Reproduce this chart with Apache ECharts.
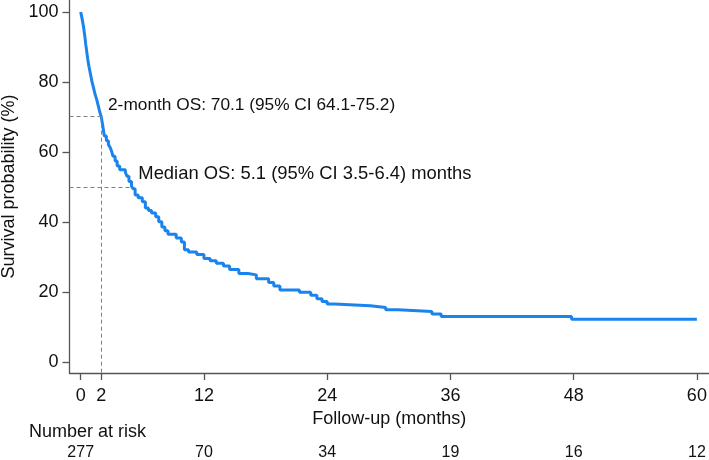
<!DOCTYPE html>
<html>
<head>
<meta charset="utf-8">
<script src="https://cdn.jsdelivr.net/npm/echarts@6/dist/echarts.min.js"></script>
<style>
html,body{margin:0;padding:0;background:#fff;}
#chart{width:709px;height:460px;}
</style>
</head>
<body>
<div id="chart"></div>
<script>
// Kaplan-Meier step points (months, survival %)
var months = [0,0.1,0.2,0.3,0.4,0.5,0.6,0.7,0.8,0.95,1.1,1.25,1.4,1.55,1.7,1.85,2.0,2.15,2.3,2.5,2.7,2.85,3.0,3.15,3.35,3.55,3.8,4.35,4.5,4.7,4.95,5.1,5.3,5.6,6.0,6.3,6.6,6.9,7.3,7.6,7.9,8.2,8.5,9.3,9.8,10.1,10.5,11.3,12.0,12.6,13.2,13.9,14.5,15.4,16.3,17.1,18.3,18.8,19.4,21.3,22.4,23.0,23.5,24.0,24.7,28.2,29.7,30.9,34.2,35.1,47.8,60.0];
var survival = [100,98.6,97.1,95.3,93.1,90.6,88.4,86.3,84.5,82.3,80.1,78.3,76.5,75.1,73.3,71.5,70.1,67.5,64.6,63.2,62.1,61.4,60.3,58.8,57.4,56.0,54.9,54.2,53.1,51.6,50.2,49.5,47.7,46.9,45.8,44.0,43.3,42.6,41.5,40.1,38.6,37.5,36.5,35.4,34.3,32.1,31.4,30.7,29.6,28.9,28.2,27.4,26.4,25.3,24.9,23.8,22.7,21.7,20.6,19.9,19.1,18.1,17.3,16.6,16.1,15.6,14.9,14.4,13.7,13.0,12.2,12.2];
var xTicks = [0,2,12,24,36,48,60];
var yTicks = [0,20,40,60,80,100];
var riskTimes = [0,12,24,36,48,60];
var riskCounts = [277,70,34,19,16,12];
var twoMonthOS = [2, 70.1];
var medianOS = [5.1, 50];
var twoMonthText = '2-month OS: 70.1 (95% CI 64.1-75.2)';
var medianText = 'Median OS: 5.1 (95% CI 3.5-6.4) months';

var X_MIN = -1.09, X_MAX = 61.18, Y_MIN = -3.14, Y_MAX = 103.43;
var FONT = '"Liberation Sans", Arial, Helvetica, sans-serif';
var NARROW = '"Liberation Sans Narrow", "Arial Narrow", "Liberation Sans", Arial, sans-serif';

var kmData = months.map(function(m, i){ return [m, survival[i]]; });
var riskMap = {};
riskTimes.forEach(function(t, i){ riskMap[t] = riskCounts[i]; });

var chart = echarts.init(document.getElementById('chart'), null, {renderer:'canvas'});
chart.setOption({
  animation: false,
  backgroundColor: '#fff',
  title: {
    text: 'Number at risk', left: 29, top: 423, padding: 0,
    textStyle: {fontFamily: FONT, fontSize: 18, fontWeight: 'normal', color: '#111'}
  },
  grid: {left: 69.5, right: 0, top: 0, bottom: 87, containLabel: false, outerBoundsMode: 'none'},
  xAxis: [{
    type: 'value', min: X_MIN, max: X_MAX,
    name: 'Follow-up (months)', nameLocation: 'middle', nameGap: 31,
    nameTextStyle: {fontFamily: FONT, fontSize: 18, color: '#111'},
    axisLine: {show: true, onZero: false, lineStyle: {color: '#555', width: 1.3}},
    axisTick: {show: true, length: 7, customValues: xTicks, lineStyle: {color: '#555', width: 1.3}},
    axisLabel: {customValues: xTicks, margin: 14, fontFamily: FONT, fontSize: 18, color: '#111'},
    splitLine: {show: false}
  }, {
    type: 'value', min: X_MIN, max: X_MAX, position: 'bottom', offset: 72,
    axisLine: {show: false}, axisTick: {show: false}, splitLine: {show: false},
    axisLabel: {customValues: riskTimes, margin: 0, fontFamily: NARROW, fontSize: 16, color: '#111',
      formatter: function(v){ var k = Math.round(v); return riskMap[k] !== undefined ? String(riskMap[k]) : ''; }}
  }],
  yAxis: {
    type: 'value', min: Y_MIN, max: Y_MAX,
    name: 'Survival probability (%)', nameLocation: 'middle', nameGap: 48, nameRotate: 90,
    nameTextStyle: {fontFamily: FONT, fontSize: 18, color: '#111'},
    axisLine: {show: true, onZero: false, lineStyle: {color: '#555', width: 1.3}},
    axisTick: {show: true, length: 7, customValues: yTicks, lineStyle: {color: '#555', width: 1.3}},
    axisLabel: {customValues: yTicks, margin: 11, fontFamily: FONT, fontSize: 18, color: '#111'},
    splitLine: {show: false}
  },
  series: [{
    type: 'line', step: 'end', data: kmData, xAxisIndex: 0,
    showSymbol: false, symbol: 'none',
    lineStyle: {color: '#1a84ee', width: 3},
    z: 3,
    markLine: {
      silent: true, symbol: 'none', animation: false,
      label: {show: false},
      lineStyle: {color: '#808080', type: [4, 3], width: 1},
      data: [
        [{coord: [X_MIN, twoMonthOS[1]]}, {coord: [twoMonthOS[0], twoMonthOS[1]]}],
        [{coord: [twoMonthOS[0], twoMonthOS[1]]}, {coord: [twoMonthOS[0], Y_MIN]}],
        [{coord: [X_MIN, medianOS[1]]}, {coord: [medianOS[0], medianOS[1]]}]
      ]
    },
    markPoint: {
      silent: true, symbol: 'circle', symbolSize: 0,
      label: {show: true, position: 'right', distance: 0, fontFamily: FONT, fontSize: 18, color: '#111'},
      data: [
        {coord: [2.66, 73.3], label: {formatter: twoMonthText, fontSize: 17.3}},
        {coord: [5.61, 53.7], label: {formatter: medianText, fontSize: 18.4}}
      ]
    }
  }]
});
</script>
</body>
</html>
